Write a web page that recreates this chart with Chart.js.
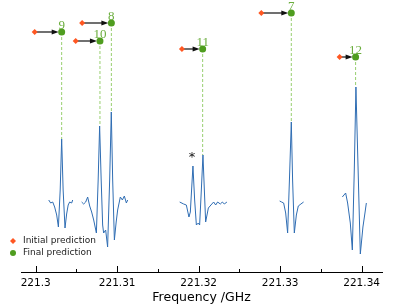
<!DOCTYPE html>
<html>
<head>
<meta charset="utf-8">
<script src="https://cdn.jsdelivr.net/npm/chart.js@4.4.0/dist/chart.umd.min.js"></script>
<style>
  html, body { margin: 0; padding: 0; background: #fff; }
  #wrap { width: 407px; height: 305px; }
</style>
</head>
<body>
<div id="wrap"><canvas id="myChart"></canvas></div>
<script>
// spectrum pieces (frequency in GHz, intensity arbitrary units)
const seg1Freq = [221.30160, 221.30184, 221.30209, 221.30233, 221.30258, 221.30279, 221.30301, 221.30319, 221.30337, 221.30360, 221.30380, 221.30399, 221.30417, 221.30442, 221.30454];
const seg1Int  = [0, -0.03, -0.02, -0.07, -0.15, -0.27, 0.10, 0.61, 0.10, -0.28, -0.14, -0.05, -0.02, -0.03, 0];

const seg2Freq = [221.30564, 221.30589, 221.30614, 221.30638, 221.30663, 221.30687, 221.30712, 221.30745, 221.30767, 221.30785, 221.30804, 221.30822, 221.30834, 221.30859, 221.30883, 221.30908, 221.30928, 221.30945, 221.30966, 221.30988, 221.31006, 221.31039, 221.31064, 221.31088, 221.31113, 221.31129];
const seg2Int  = [-0.02, -0.04, -0.02, 0.03, -0.06, -0.12, -0.20, -0.33, 0.20, 0.74, 0.20, -0.25, -0.33, -0.30, -0.47, 0.20, 0.88, 0.20, -0.40, -0.22, -0.10, 0.03, 0, 0.04, -0.03, 0];

const seg3Freq = [221.31767, 221.31816, 221.31849, 221.31881, 221.31898, 221.31930, 221.31951, 221.31972, 221.31996, 221.32012, 221.32033, 221.32053, 221.32070, 221.32086, 221.32119, 221.32151, 221.32184, 221.32209, 221.32233, 221.32266, 221.32291, 221.32315, 221.32347];
const seg3Int  = [-0.02, -0.04, -0.05, -0.17, -0.12, 0.34, 0, -0.25, -0.23, -0.25, 0.10, 0.45, 0.10, -0.22, -0.08, -0.05, -0.02, -0.05, -0.02, -0.04, -0.02, -0.04, -0.02];

const seg4Freq = [221.32994, 221.33018, 221.33043, 221.33068, 221.33092, 221.33114, 221.33137, 221.33153, 221.33174, 221.33199, 221.33223, 221.33255, 221.33288];
const seg4Int  = [-0.01, -0.02, -0.03, -0.13, -0.33, 0.20, 0.78, 0.20, -0.33, -0.15, -0.06, -0.04, -0.02];

const seg5Freq = [221.33763, 221.33804, 221.33828, 221.33861, 221.33886, 221.33910, 221.33930, 221.33957, 221.33984, 221.34016, 221.34041, 221.34058];
const seg5Int  = [0.03, 0.07, -0.03, -0.23, -0.50, 0.30, 1.13, 0.30, -0.54, -0.27, -0.13, -0.03];

// line assignments
const lineLabels   = ['9', '8', '10', '11', '7', '12'];
const initialFreq  = [221.29988, 221.30570, 221.30491, 221.31795, 221.32769, 221.33730];
const finalFreq    = [221.30319, 221.30929, 221.30789, 221.32049, 221.33137, 221.33926];
const markerHeight = [1.68, 1.77, 1.59, 1.51, 1.87, 1.43];
const peakTop      = [0.61, 0.88, 0.74, 0.45, 0.78, 1.13];

const asteriskFreq = 221.31917;
const asteriskInt  = 0.42;

const tickValues = [221.30, 221.31, 221.32, 221.33, 221.34];
const tickLabels = ['221.3', '221.31', '221.32', '221.33', '221.34'];
const minorTicks = [221.305, 221.315, 221.325, 221.335];

const legendLabels = ['Initial prediction', 'Final prediction'];

const BLUE = '#2f6db3';
const GREEN = '#4f9d1f';
const GREEN_TXT = '#6aad3c';
const GREEN_DASH = '#98cf70';
const ORANGE = '#ff5722';

function pts(xs, ys) {
    return xs.map((x, i) => ({ x: x, y: ys[i] }));
}

const spectrum = [[seg1Freq, seg1Int], [seg2Freq, seg2Int], [seg3Freq, seg3Int], [seg4Freq, seg4Int], [seg5Freq, seg5Int]]
    .map(s => ({
        type: 'line',
        data: pts(s[0], s[1]),
        borderColor: BLUE,
        borderWidth: 1,
        pointRadius: 0,
        tension: 0,
        order: 3
    }));

const dashes = finalFreq.map((f, i) => ({
    type: 'line',
    data: [{ x: f, y: markerHeight[i] }, { x: f, y: peakTop[i] }],
    borderColor: GREEN_DASH,
    borderWidth: 1,
    borderDash: [3, 2],
    pointRadius: 0,
    order: 2
}));

const initialSet = {
    type: 'scatter',
    data: pts(initialFreq, markerHeight),
    pointStyle: 'rectRot',
    pointRadius: 3,
    backgroundColor: ORANGE,
    borderColor: ORANGE,
    borderWidth: 0,
    order: 0
};

const finalSet = {
    type: 'scatter',
    data: pts(finalFreq, markerHeight),
    pointStyle: 'circle',
    pointRadius: 3.5,
    backgroundColor: GREEN,
    borderColor: GREEN,
    borderWidth: 0,
    order: 0
};

const extras = {
    id: 'extras',
    beforeDatasetsDraw(chart) {
        const ctx = chart.ctx;
        const xs = chart.scales.x, ys = chart.scales.y;
        ctx.save();
        // arrows initial -> final
        ctx.strokeStyle = '#111';
        ctx.fillStyle = '#111';
        ctx.lineWidth = 1.2;
        initialFreq.forEach((f, i) => {
            const x0 = xs.getPixelForValue(f);
            const x1 = xs.getPixelForValue(finalFreq[i]) - 3;
            const y = ys.getPixelForValue(markerHeight[i]);
            ctx.beginPath();
            ctx.moveTo(x0, y);
            ctx.lineTo(x1 - 5, y);
            ctx.stroke();
            ctx.beginPath();
            ctx.moveTo(x1, y);
            ctx.lineTo(x1 - 7, y - 2.5);
            ctx.lineTo(x1 - 7, y + 2.5);
            ctx.closePath();
            ctx.fill();
        });
        ctx.restore();
    },
    afterDatasetsDraw(chart) {
        const ctx = chart.ctx;
        const xs = chart.scales.x, ys = chart.scales.y;
        ctx.save();
        // line labels
        ctx.font = '13px "Liberation Serif"';
        ctx.fillStyle = GREEN_TXT;
        ctx.textAlign = 'center';
        ctx.textBaseline = 'alphabetic';
        lineLabels.forEach((t, i) => {
            ctx.fillText(t, xs.getPixelForValue(finalFreq[i]), ys.getPixelForValue(markerHeight[i]) - 3.5);
        });
        // asterisk
        ctx.font = '13px "DejaVu Sans"';
        ctx.fillStyle = '#111';
        ctx.textBaseline = 'middle';
        ctx.fillText('*', xs.getPixelForValue(asteriskFreq), ys.getPixelForValue(asteriskInt));
        // x ticks, drawn inward
        const yb = chart.chartArea.bottom;
        ctx.strokeStyle = '#000';
        ctx.lineWidth = 1;
        tickValues.forEach(v => {
            const x = Math.round(xs.getPixelForValue(v)) + 0.5;
            ctx.beginPath();
            ctx.moveTo(x, yb);
            ctx.lineTo(x, yb - 6);
            ctx.stroke();
        });
        minorTicks.forEach(v => {
            const x = Math.round(xs.getPixelForValue(v)) + 0.5;
            ctx.beginPath();
            ctx.moveTo(x, yb);
            ctx.lineTo(x, yb - 3);
            ctx.stroke();
        });
        // legend
        ctx.font = '9px "DejaVu Sans"';
        ctx.textAlign = 'left';
        ctx.textBaseline = 'middle';
        const lx = 13, ly = [241, 253];
        ctx.fillStyle = ORANGE;
        ctx.beginPath();
        ctx.moveTo(lx, ly[0] - 3); ctx.lineTo(lx + 3, ly[0]); ctx.lineTo(lx, ly[0] + 3); ctx.lineTo(lx - 3, ly[0]);
        ctx.closePath();
        ctx.fill();
        ctx.fillStyle = GREEN;
        ctx.beginPath();
        ctx.arc(lx, ly[1], 3, 0, Math.PI * 2);
        ctx.fill();
        ctx.fillStyle = '#222';
        legendLabels.forEach((t, i) => ctx.fillText(t, lx + 10, ly[i]));
        ctx.restore();
    }
};

const ctx = document.getElementById('myChart').getContext('2d');
const myChart = new Chart(ctx, {
    data: {
        datasets: spectrum.concat(dashes, [initialSet, finalSet])
    },
    options: {
        responsive: true,
        maintainAspectRatio: false,
        animation: false,
        layout: { padding: { left: 21, right: 25, top: 0, bottom: 0 } },
        plugins: {
            legend: { display: false },
            tooltip: { enabled: false }
        },
        scales: {
            x: {
                type: 'linear',
                min: 221.2982,
                max: 221.3425,
                afterBuildTicks: axis => { axis.ticks = tickValues.map(v => ({ value: v })); },
                afterFit: axis => { axis.height = 33; },
                grid: { display: false, drawTicks: false },
                border: { display: true, color: '#000', width: 1 },
                ticks: {
                    padding: 5,
                    color: '#000',
                    font: { family: 'DejaVu Sans', size: 10.5 },
                    maxRotation: 0,
                    autoSkip: false,
                    callback: (v, i) => tickLabels[i]
                },
                title: {
                    display: true,
                    text: 'Frequency /GHz',
                    color: '#000',
                    font: { family: 'DejaVu Sans', size: 12.5 },
                    padding: { top: 0, bottom: 0 }
                }
            },
            y: {
                display: false,
                min: -0.72,
                max: 1.96
            }
        }
    },
    plugins: [extras]
});
</script>
</body>
</html>
